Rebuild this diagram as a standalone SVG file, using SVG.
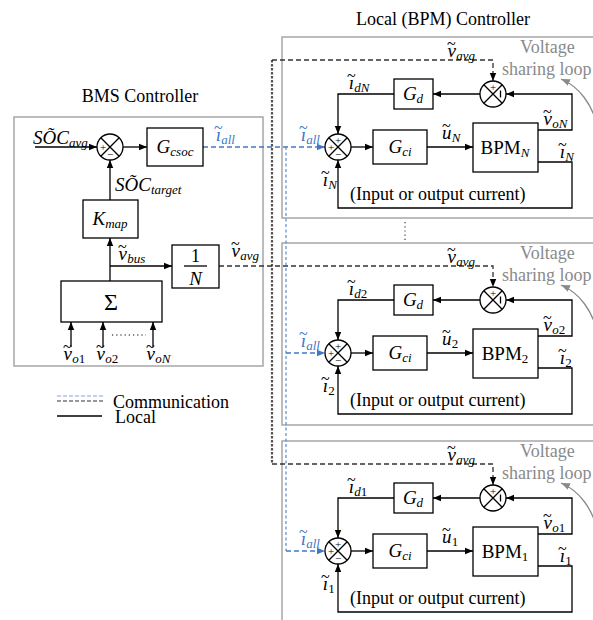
<svg xmlns="http://www.w3.org/2000/svg" width="593" height="620" viewBox="0 0 593 620" font-family="Liberation Serif, DejaVu Serif, serif">
<defs>
<style>
text{font-family:"Liberation Serif","DejaVu Serif",serif;fill:#000}
.t{font-size:18px}
.m{font-size:19px;font-style:italic}
.s{font-size:13px;font-style:italic}
.n{font-style:normal}
.tl{font-size:16px;font-style:normal}
.sg{font-size:11px;text-anchor:middle}
.gray{fill:#8a8a8a}
.blue{fill:#3f78c8}
.panel{fill:none;stroke:#a6a6a6;stroke-width:1.5}
.box{fill:#fff;stroke:#000;stroke-width:1.3}
.circ{fill:#fff;stroke:#000;stroke-width:1.3}
.ln{fill:none;stroke:#000;stroke-width:1.3}
.bd{fill:none;stroke:#333;stroke-width:1.3;stroke-dasharray:5 3}
.bv{fill:none;stroke:#555;stroke-width:2.2;stroke-dasharray:2.5 1.5}
.bl{fill:none;stroke:#3f78c8;stroke-width:1.3;stroke-dasharray:5 3}
.blv{fill:none;stroke:#5a8ad0;stroke-width:1.2;stroke-dasharray:3 2.5}
.arc{fill:none;stroke:#8a8a8a;stroke-width:1.3}
.dot{fill:none;stroke:#555;stroke-width:1.4;stroke-dasharray:1.2 3}
</style>
<marker id="ah" viewBox="0 0 10 10" refX="10" refY="5" markerWidth="8" markerHeight="8" markerUnits="userSpaceOnUse" orient="auto"><path d="M0,1 L10,5 L0,9 z" fill="#000"/></marker>
<marker id="ahb" viewBox="0 0 10 10" refX="10" refY="5" markerWidth="8" markerHeight="8" markerUnits="userSpaceOnUse" orient="auto"><path d="M0,1 L10,5 L0,9 z" fill="#3f78c8"/></marker>
<marker id="ahg" viewBox="0 0 10 10" refX="10" refY="5" markerWidth="9" markerHeight="9" markerUnits="userSpaceOnUse" orient="auto"><path d="M0,1 L10,5 L0,9 z" fill="#8a8a8a"/></marker>
</defs>
<rect width="593" height="620" fill="#fff"/>

<text class="t" x="140" y="102" text-anchor="middle">BMS Controller</text>
<text class="t" x="443" y="25" text-anchor="middle">Local (BPM) Controller</text>

<g id="bms-panel"><rect class="panel" x="14" y="117" width="249" height="249"/></g>
<g id="bpm-panel-N"><rect class="panel" x="282" y="37" width="320" height="181"/></g>
<g id="bpm-panel-2"><rect class="panel" x="282" y="243" width="320" height="182"/></g>
<g id="bpm-panel-1"><rect class="panel" x="282" y="441" width="320" height="190"/></g>

<g id="connectors">
  <path class="ln" d="M35 147 H97" marker-end="url(#ah)"/>
  <path class="ln" d="M123 147 H147" marker-end="url(#ah)"/>
  <path class="ln" d="M110 200 V160" marker-end="url(#ah)"/>
  <path class="ln" d="M110 281 V238" marker-end="url(#ah)"/>
  <path class="ln" d="M110 266 H172" marker-end="url(#ah)"/>
  <path class="ln" d="M71 347 V322" marker-end="url(#ah)"/>
  <path class="ln" d="M103 347 V322" marker-end="url(#ah)"/>
  <path class="ln" d="M153 347 V322" marker-end="url(#ah)"/>
  <path class="dot" d="M112 335 H146"/>
  <path class="bv" d="M272 60 V464"/>
  <path class="bd" d="M272 60 H493 V81" marker-end="url(#ah)"/>
  <path class="bd" d="M219 266 H493 V287" marker-end="url(#ah)"/>
  <path class="bd" d="M272 464 H493 V485" marker-end="url(#ah)"/>
  <path class="bl" d="M203 147 H325" marker-end="url(#ahb)"/>
  <path class="blv" d="M286 147 V551"/>
  <path class="bl" d="M286 353 H325" marker-end="url(#ahb)"/>
  <path class="bl" d="M286 551 H325" marker-end="url(#ahb)"/>
  <path class="dot" d="M405 222 V242"/>
  <g id="conn-N">
    <path class="ln" d="M480 94 H433" marker-end="url(#ah)"/>
    <path class="ln" d="M394 94 H338 V134" marker-end="url(#ah)"/>
    <path class="ln" d="M351 147 H373" marker-end="url(#ah)"/>
    <path class="ln" d="M427 147 H473" marker-end="url(#ah)"/>
    <path class="ln" d="M538 130 H572 V94 H506" marker-end="url(#ah)"/>
    <path class="ln" d="M538 162 H572 V208 H338 V160" marker-end="url(#ah)"/>
    <path class="arc" d="M597 125 C592 105 580 87 561 79" marker-end="url(#ahg)"/>
  </g>
  <g id="conn-2" transform="translate(0,206)">
    <path class="ln" d="M480 94 H433" marker-end="url(#ah)"/>
    <path class="ln" d="M394 94 H338 V134" marker-end="url(#ah)"/>
    <path class="ln" d="M351 147 H373" marker-end="url(#ah)"/>
    <path class="ln" d="M427 147 H473" marker-end="url(#ah)"/>
    <path class="ln" d="M538 130 H572 V94 H506" marker-end="url(#ah)"/>
    <path class="ln" d="M538 162 H572 V208 H338 V160" marker-end="url(#ah)"/>
    <path class="arc" d="M597 125 C592 105 580 87 561 79" marker-end="url(#ahg)"/>
  </g>
  <g id="conn-1" transform="translate(0,404)">
    <path class="ln" d="M480 94 H433" marker-end="url(#ah)"/>
    <path class="ln" d="M394 94 H338 V134" marker-end="url(#ah)"/>
    <path class="ln" d="M351 147 H373" marker-end="url(#ah)"/>
    <path class="ln" d="M427 147 H473" marker-end="url(#ah)"/>
    <path class="ln" d="M538 130 H572 V94 H506" marker-end="url(#ah)"/>
    <path class="ln" d="M538 162 H572 V208 H338 V160" marker-end="url(#ah)"/>
    <path class="arc" d="M597 125 C592 105 580 87 561 79" marker-end="url(#ahg)"/>
  </g>
</g>

<g id="bms-sum">
  <circle class="circ" cx="110" cy="147" r="13"/>
  <path class="ln" d="M100.8 137.8 L119.2 156.2 M119.2 137.8 L100.8 156.2"/>
  <text class="sg" x="103" y="151">+</text>
  <text class="sg" x="110" y="158">−</text>
</g>
<g id="g-csoc">
  <rect class="box" x="147" y="128" width="56" height="38"/>
  <text class="m" x="175" y="153" text-anchor="middle">G<tspan class="s" dy="3">csoc</tspan></text>
</g>
<g id="k-map">
  <rect class="box" x="83" y="200" width="55" height="38"/>
  <text class="m" x="110" y="225" text-anchor="middle">K<tspan class="s" dy="3">map</tspan></text>
</g>
<g id="one-over-n">
  <rect class="box" x="172" y="245" width="47" height="43"/>
  <text class="t" x="195.5" y="262" text-anchor="middle">1</text>
  <path class="ln" d="M184 266 H207"/>
  <text class="m" x="195.5" y="285" text-anchor="middle">N</text>
</g>
<g id="sigma">
  <rect class="box" x="61" y="281" width="101" height="41"/>
  <text x="111" y="310" text-anchor="middle" style="font-size:24px">Σ</text>
</g>
<g id="bms-labels">
  <text class="m" x="33" y="144">SÕC<tspan class="s" dy="3">avg</tspan></text>
  <text class="m blue" x="214" y="141">ı<tspan class="tl" dx="-7" dy="-8">~</tspan><tspan class="s" dx="-1.5" dy="11">all</tspan></text>
  <text class="m" x="115" y="191">SÕC<tspan class="s" dy="3">target</tspan></text>
  <text class="m" x="118" y="260">v<tspan class="tl" dx="-9" dy="-8">~</tspan><tspan class="s" dx="0.5" dy="11">bus</tspan></text>
  <text class="m" x="231" y="257">v<tspan class="tl" dx="-9" dy="-8">~</tspan><tspan class="s" dx="0.5" dy="11">avg</tspan></text>
  <text class="m" x="63" y="360">v<tspan class="tl" dx="-9" dy="-8">~</tspan><tspan class="s" dx="0.5" dy="11">o<tspan class="n">1</tspan></tspan></text>
  <text class="m" x="96" y="360">v<tspan class="tl" dx="-9" dy="-8">~</tspan><tspan class="s" dx="0.5" dy="11">o<tspan class="n">2</tspan></tspan></text>
  <text class="m" x="146" y="360">v<tspan class="tl" dx="-9" dy="-8">~</tspan><tspan class="s" dx="0.5" dy="11">oN</tspan></text>
</g>

<g id="legend">
  <path d="M57 396 H103" fill="none" stroke="#7fa6dc" stroke-width="1.2" stroke-dasharray="4 2"/>
  <path d="M57 401 H103" fill="none" stroke="#333" stroke-width="1.2" stroke-dasharray="4 2"/>
  <text class="t" x="113" y="408">Communication</text>
  <path class="ln" d="M57 416 H102"/>
  <text class="t" x="115" y="423">Local</text>
</g>

<g id="bpm-N">
  <g id="vsum-N">
    <circle class="circ" cx="493" cy="94" r="13"/>
    <path class="ln" d="M483.8 84.8 L502.2 103.2 M502.2 84.8 L483.8 103.2"/>
    <text class="sg" x="493" y="91">+</text>
    <path class="ln" d="M500.5 90.5 V97.5"/>
  </g>
  <g id="gd-N"><rect class="box" x="394" y="79" width="39" height="30"/><text class="m" x="413" y="100" text-anchor="middle">G<tspan class="s" dy="3">d</tspan></text></g>
  <g id="isum-N">
    <circle class="circ" cx="338" cy="147" r="13"/>
    <path class="ln" d="M328.8 137.8 L347.2 156.2 M347.2 137.8 L328.8 156.2"/>
    <text class="sg" x="338" y="144">+</text>
    <text class="sg" x="331" y="151">+</text>
    <text class="sg" x="338" y="158">−</text>
  </g>
  <g id="gci-N"><rect class="box" x="373" y="130" width="54" height="34"/><text class="m" x="400" y="153" text-anchor="middle">G<tspan class="s" dy="3">ci</tspan></text></g>
  <g id="bpmbox-N"><rect class="box" x="473" y="123" width="65" height="49"/><text x="505" y="154" text-anchor="middle" style="font-size:19px">BPM<tspan class="s" dy="3">N</tspan></text></g>
  <text class="m" x="447" y="57">v<tspan class="tl" dx="-9" dy="-8">~</tspan><tspan class="s" dx="0.5" dy="11">avg</tspan></text>
  <text class="t gray" x="520" y="53">Voltage</text>
  <text class="t gray" x="502" y="75">sharing loop</text>
  <text class="m" x="347" y="89">ı<tspan class="tl" dx="-7" dy="-8">~</tspan><tspan class="s" dx="-1.5" dy="11">dN</tspan></text>
  <text class="m blue" x="299" y="141">ı<tspan class="tl" dx="-7" dy="-8">~</tspan><tspan class="s" dx="-1.5" dy="11">all</tspan></text>
  <text class="m" x="442" y="139">u<tspan class="tl" dx="-9.5" dy="-8">~</tspan><tspan class="s" dx="1" dy="11">N</tspan></text>
  <text class="m" x="543" y="125">v<tspan class="tl" dx="-9" dy="-8">~</tspan><tspan class="s" dx="0.5" dy="11">oN</tspan></text>
  <text class="m" x="558" y="158">ı<tspan class="tl" dx="-7" dy="-8">~</tspan><tspan class="s" dx="-1.5" dy="11">N</tspan></text>
  <text class="m" x="321" y="186">ı<tspan class="tl" dx="-7" dy="-8">~</tspan><tspan class="s" dx="-1.5" dy="11">N</tspan></text>
  <text class="t" x="350" y="200">(Input or output current)</text>
</g>

<g id="bpm-2" transform="translate(0,206)">
  <g id="vsum-2">
    <circle class="circ" cx="493" cy="94" r="13"/>
    <path class="ln" d="M483.8 84.8 L502.2 103.2 M502.2 84.8 L483.8 103.2"/>
    <text class="sg" x="493" y="91">+</text>
    <path class="ln" d="M500.5 90.5 V97.5"/>
  </g>
  <g id="gd-2"><rect class="box" x="394" y="79" width="39" height="30"/><text class="m" x="413" y="100" text-anchor="middle">G<tspan class="s" dy="3">d</tspan></text></g>
  <g id="isum-2">
    <circle class="circ" cx="338" cy="147" r="13"/>
    <path class="ln" d="M328.8 137.8 L347.2 156.2 M347.2 137.8 L328.8 156.2"/>
    <text class="sg" x="338" y="144">+</text>
    <text class="sg" x="331" y="151">+</text>
    <text class="sg" x="338" y="158">−</text>
  </g>
  <g id="gci-2"><rect class="box" x="373" y="130" width="54" height="34"/><text class="m" x="400" y="153" text-anchor="middle">G<tspan class="s" dy="3">ci</tspan></text></g>
  <g id="bpmbox-2"><rect class="box" x="473" y="123" width="65" height="49"/><text x="505" y="154" text-anchor="middle" style="font-size:19px">BPM<tspan class="s n" dy="3">2</tspan></text></g>
  <text class="m" x="447" y="57">v<tspan class="tl" dx="-9" dy="-8">~</tspan><tspan class="s" dx="0.5" dy="11">avg</tspan></text>
  <text class="t gray" x="520" y="53">Voltage</text>
  <text class="t gray" x="502" y="75">sharing loop</text>
  <text class="m" x="347" y="89">ı<tspan class="tl" dx="-7" dy="-8">~</tspan><tspan class="s" dx="-1.5" dy="11">d<tspan class="n">2</tspan></tspan></text>
  <text class="m blue" x="299" y="141">ı<tspan class="tl" dx="-7" dy="-8">~</tspan><tspan class="s" dx="-1.5" dy="11">all</tspan></text>
  <text class="m" x="442" y="139">u<tspan class="tl" dx="-9.5" dy="-8">~</tspan><tspan class="s n" dx="1" dy="11">2</tspan></text>
  <text class="m" x="543" y="125">v<tspan class="tl" dx="-9" dy="-8">~</tspan><tspan class="s" dx="0.5" dy="11">o<tspan class="n">2</tspan></tspan></text>
  <text class="m" x="558" y="158">ı<tspan class="tl" dx="-7" dy="-8">~</tspan><tspan class="s n" dx="-1.5" dy="11">2</tspan></text>
  <text class="m" x="321" y="186">ı<tspan class="tl" dx="-7" dy="-8">~</tspan><tspan class="s n" dx="-1.5" dy="11">2</tspan></text>
  <text class="t" x="350" y="200">(Input or output current)</text>
</g>

<g id="bpm-1" transform="translate(0,404)">
  <g id="vsum-1">
    <circle class="circ" cx="493" cy="94" r="13"/>
    <path class="ln" d="M483.8 84.8 L502.2 103.2 M502.2 84.8 L483.8 103.2"/>
    <text class="sg" x="493" y="91">+</text>
    <path class="ln" d="M500.5 90.5 V97.5"/>
  </g>
  <g id="gd-1"><rect class="box" x="394" y="79" width="39" height="30"/><text class="m" x="413" y="100" text-anchor="middle">G<tspan class="s" dy="3">d</tspan></text></g>
  <g id="isum-1">
    <circle class="circ" cx="338" cy="147" r="13"/>
    <path class="ln" d="M328.8 137.8 L347.2 156.2 M347.2 137.8 L328.8 156.2"/>
    <text class="sg" x="338" y="144">+</text>
    <text class="sg" x="331" y="151">+</text>
    <text class="sg" x="338" y="158">−</text>
  </g>
  <g id="gci-1"><rect class="box" x="373" y="130" width="54" height="34"/><text class="m" x="400" y="153" text-anchor="middle">G<tspan class="s" dy="3">ci</tspan></text></g>
  <g id="bpmbox-1"><rect class="box" x="473" y="123" width="65" height="49"/><text x="505" y="154" text-anchor="middle" style="font-size:19px">BPM<tspan class="s n" dy="3">1</tspan></text></g>
  <text class="m" x="447" y="57">v<tspan class="tl" dx="-9" dy="-8">~</tspan><tspan class="s" dx="0.5" dy="11">avg</tspan></text>
  <text class="t gray" x="520" y="53">Voltage</text>
  <text class="t gray" x="502" y="75">sharing loop</text>
  <text class="m" x="347" y="89">ı<tspan class="tl" dx="-7" dy="-8">~</tspan><tspan class="s" dx="-1.5" dy="11">d<tspan class="n">1</tspan></tspan></text>
  <text class="m blue" x="299" y="141">ı<tspan class="tl" dx="-7" dy="-8">~</tspan><tspan class="s" dx="-1.5" dy="11">all</tspan></text>
  <text class="m" x="442" y="139">u<tspan class="tl" dx="-9.5" dy="-8">~</tspan><tspan class="s n" dx="1" dy="11">1</tspan></text>
  <text class="m" x="543" y="125">v<tspan class="tl" dx="-9" dy="-8">~</tspan><tspan class="s" dx="0.5" dy="11">o<tspan class="n">1</tspan></tspan></text>
  <text class="m" x="558" y="158">ı<tspan class="tl" dx="-7" dy="-8">~</tspan><tspan class="s n" dx="-1.5" dy="11">1</tspan></text>
  <text class="m" x="321" y="186">ı<tspan class="tl" dx="-7" dy="-8">~</tspan><tspan class="s n" dx="-1.5" dy="11">1</tspan></text>
  <text class="t" x="350" y="200">(Input or output current)</text>
</g>
</svg>
